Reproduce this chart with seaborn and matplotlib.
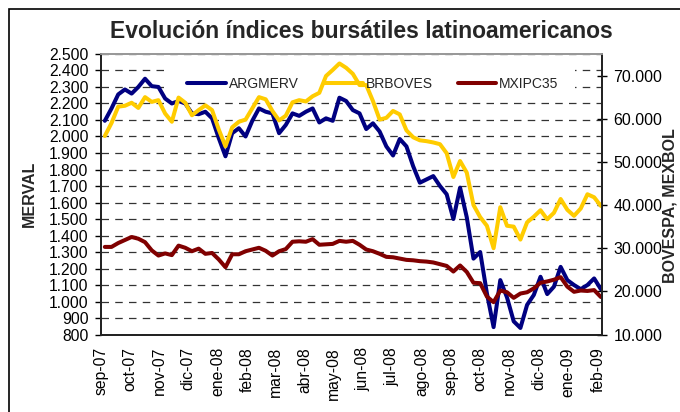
import pandas as pd
import seaborn as sns
import matplotlib.pyplot as plt
from matplotlib.ticker import FuncFormatter
from matplotlib.patches import Rectangle

# weekly closes
dates = pd.date_range("2007-09-05", periods=75, freq="7D")

argmerv = [2095, 2170, 2255, 2285, 2260, 2300, 2350, 2305, 2300, 2230,
           2200, 2215, 2200, 2140, 2135, 2150, 2110, 1990, 1880, 2020,
           2050, 2000, 2095, 2170, 2150, 2140, 2020, 2070, 2140, 2125,
           2150, 2170, 2085, 2110, 2095, 2235, 2215, 2160, 2140, 2045,
           2080, 2030, 1940, 1885, 1985, 1940, 1820, 1720, 1740, 1760,
           1700, 1650, 1500, 1690, 1510, 1260, 1300, 1050, 845, 1130,
           1025, 880, 840, 980, 1040, 1150, 1045, 1090, 1210, 1130,
           1100, 1075, 1100, 1140, 1075]

brboves = [56000, 59000, 62800, 63000, 63700, 62500, 65000, 63900, 64300, 61200,
           59300, 64900, 63700, 60800, 62000, 63100, 62000, 57500, 53600, 58000,
           59300, 59800, 62400, 65000, 64500, 61800, 59600, 60700, 63800, 64300,
           64000, 65200, 66000, 69900, 71300, 72800, 71800, 70400, 67800, 67800,
           64100, 59800, 60200, 61800, 61000, 57300, 55700, 55000, 54800, 54500,
           54100, 52000, 46500, 50200, 47500, 40000, 37200, 35200, 30000, 39500,
           35200, 35000, 32000, 36000, 37300, 38800, 36700, 38200, 41400, 38900,
           37500, 39200, 42500, 41800, 39800]

mxipc35 = [30300, 30300, 31200, 31900, 32600, 32200, 31400, 29500, 28300, 28800,
           28400, 30600, 30100, 29300, 29900, 28700, 28900, 27400, 25600, 28600,
           28600, 29300, 29700, 30100, 29400, 28300, 29300, 29800, 31500, 31600,
           31500, 32100, 30800, 30900, 31000, 31700, 31500, 31700, 30800, 29700,
           29300, 28700, 28000, 27900, 27600, 27300, 27200, 27000, 26900, 26700,
           26300, 25900, 24600, 26000, 24500, 22000, 21900, 18800, 17500, 20200,
           19800, 18500, 19500, 19800, 20700, 22000, 22300, 22700, 23300, 21100,
           19900, 20200, 20100, 20300, 18700]

month_ticks = pd.date_range("2007-09-01", "2009-02-01", freq="MS")
month_labels = ["sep-07", "oct-07", "nov-07", "dic-07", "ene-08", "feb-08",
                "mar-08", "abr-08", "may-08", "jun-08", "jul-08", "ago-08",
                "sep-08", "oct-08", "nov-08", "dic-08", "ene-09", "feb-09"]

sns.set_style("white")
plt.rcParams["font.family"] = ["Liberation Sans", "DejaVu Sans"]

fig = plt.figure(figsize=(6.8, 4.12), dpi=100)
ax = fig.add_axes([0.1485, 0.188, 0.7365, 0.681])
ax2 = ax.twinx()

sns.lineplot(x=dates, y=argmerv, ax=ax, color="#000080", linewidth=2.9, legend=False)
sns.lineplot(x=dates, y=brboves, ax=ax2, color="#FFCC00", linewidth=2.9, legend=False)
sns.lineplot(x=dates, y=mxipc35, ax=ax2, color="#800000", linewidth=2.9, legend=False)

thousands = FuncFormatter(lambda v, p: f"{v:,.0f}".replace(",", "."))

ax.set_xlim(pd.Timestamp("2007-09-01"), pd.Timestamp("2009-02-05"))
ax.set_ylim(800, 2500)
ax.set_yticks(range(800, 2501, 100))
ax.yaxis.set_major_formatter(thousands)
ax.set_xticks(month_ticks)
ax.set_xticklabels(month_labels, rotation=90)
ax.set_xlabel("")

ax2.set_ylim(10000, 75000)
ax2.set_yticks(range(10000, 70001, 10000))
ax2.yaxis.set_major_formatter(thousands)

ax.set_axisbelow(True)
ax.yaxis.grid(True, linestyle=(0, (6, 5)), color="#333333", linewidth=0.9)
ax.xaxis.grid(False)

# white box behind the legend hides the gridlines there
ax.add_patch(Rectangle((0.138, 0.847), 0.808, 0.124, transform=ax.transAxes,
                       facecolor="white", edgecolor="none", zorder=1))

ax.tick_params(axis="y", direction="out", length=4, width=1, pad=5, labelsize=11.3, colors="black")
ax.tick_params(axis="x", direction="out", length=4, width=1, pad=5, labelsize=11.3, colors="black")
ax2.tick_params(axis="y", direction="inout", length=7, width=1, pad=5, labelsize=11.5, colors="black")

for a in (ax, ax2):
    for side in ("left", "right", "bottom"):
        a.spines[side].set_color("#222222")
        a.spines[side].set_linewidth(1.3)
    a.spines["top"].set_color("#999999")
    a.spines["top"].set_linewidth(1.3)

ax.set_ylabel("MERVAL", fontsize=11.5, fontweight="bold")
ax.yaxis.set_label_coords(-0.128, 0.5)
ax2.set_ylabel("BOVESPA, MEXBOL", fontsize=11.5, fontweight="bold")
ax2.yaxis.set_label_coords(1.122, 0.458)

handles = [ax.get_lines()[0], ax2.get_lines()[0], ax2.get_lines()[1]]
ax2.legend(handles, ["ARGMERV", "BRBOVES", "MXIPC35"], ncol=3, frameon=False,
           loc="center", bbox_to_anchor=(0.543, 0.893), fontsize=10,
           handlelength=2.8, handletextpad=0.2, columnspacing=1.8)

fig.text(0.531, 0.908, "Evolución índices bursátiles latinoamericanos",
         ha="center", va="baseline", fontsize=16.5, fontweight="bold")

fig.add_artist(Rectangle((9 / 680, -0.5), 2, 0.978 + 0.5, transform=fig.transFigure,
                         fill=False, edgecolor="black", linewidth=1.2))

plt.savefig("out.png", dpi=100)
